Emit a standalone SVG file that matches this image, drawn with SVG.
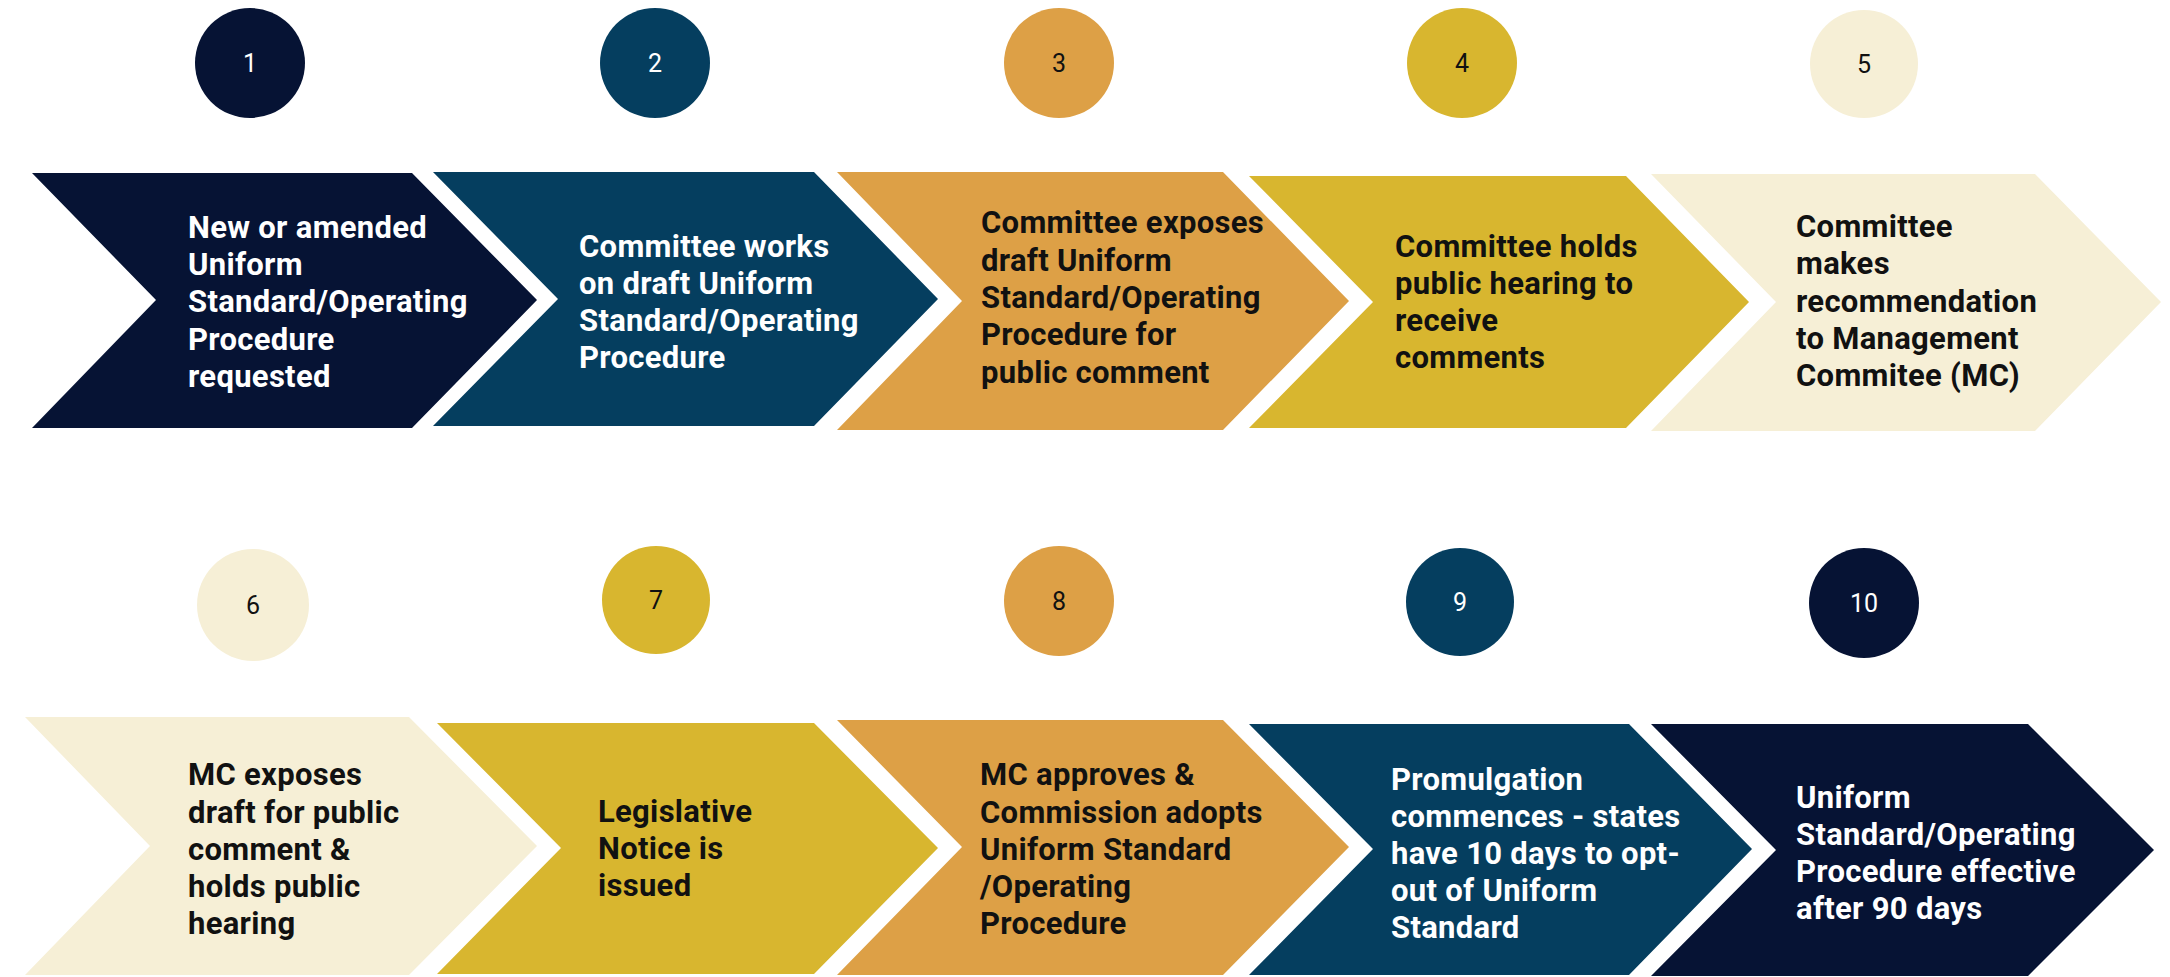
<svg xmlns="http://www.w3.org/2000/svg" width="2170" height="977" viewBox="0 0 2170 977">
<style>
.navy{fill:#061334}
.blue{fill:#053E5F}
.orange{fill:#DDA046}
.gold{fill:#D8B62F}
.cream{fill:#F6EFD6}
.num{font-family:Roboto,"Liberation Sans",sans-serif;font-size:25px;text-anchor:middle}
.lbl{font-family:Roboto,"Liberation Sans",sans-serif;font-size:31px;font-weight:bold;letter-spacing:0.3px}
.w{fill:#FFFFFF}
.d{fill:#111111}
</style>
<rect width="2170" height="977" fill="#FFFFFF"/>
<g id="step1">
<circle class="navy" cx="250" cy="63" r="55"/>
<text class="num w" x="250" y="72">1</text>
<polygon class="navy" points="32,173 412,173 537,300 412,428 32,428 156,300"/>
<text class="lbl w"><tspan x="188" y="238">New or amended</tspan><tspan x="188" y="275">Uniform</tspan><tspan x="188" y="312">Standard/Operating</tspan><tspan x="188" y="350">Procedure</tspan><tspan x="188" y="387">requested</tspan></text>
</g>
<g id="step2">
<circle class="blue" cx="655" cy="63" r="55"/>
<text class="num w" x="655" y="72">2</text>
<polygon class="blue" points="433,172 814,172 938,299 814,426 433,426 558,299"/>
<text class="lbl w"><tspan x="579" y="257">Committee works</tspan><tspan x="579" y="294">on draft Uniform</tspan><tspan x="579" y="331">Standard/Operating</tspan><tspan x="579" y="368">Procedure</tspan></text>
</g>
<g id="step3">
<circle class="orange" cx="1059" cy="63" r="55"/>
<text class="num d" x="1059" y="72">3</text>
<polygon class="orange" points="837,172 1223,172 1349,301 1223,430 837,430 962,301"/>
<text class="lbl d"><tspan x="981" y="233">Committee exposes</tspan><tspan x="981" y="271">draft Uniform</tspan><tspan x="981" y="308">Standard/Operating</tspan><tspan x="981" y="345">Procedure for</tspan><tspan x="981" y="383">public comment</tspan></text>
</g>
<g id="step4">
<circle class="gold" cx="1462" cy="63" r="55"/>
<text class="num d" x="1462" y="72">4</text>
<polygon class="gold" points="1249,176 1626,176 1749,302 1626,428 1249,428 1373,302"/>
<text class="lbl d"><tspan x="1395" y="257">Committee holds</tspan><tspan x="1395" y="294">public hearing to</tspan><tspan x="1395" y="331">receive</tspan><tspan x="1395" y="368">comments</tspan></text>
</g>
<g id="step5">
<circle class="cream" cx="1864" cy="64" r="54"/>
<text class="num d" x="1864" y="73">5</text>
<polygon class="cream" points="1651,174 2035,174 2161,302 2035,431 1651,431 1776,302"/>
<text class="lbl d"><tspan x="1796" y="237">Committee</tspan><tspan x="1796" y="274">makes</tspan><tspan x="1796" y="312">recommendation</tspan><tspan x="1796" y="349">to Management</tspan><tspan x="1796" y="386">Commitee (MC)</tspan></text>
</g>
<g id="step6">
<circle class="cream" cx="253" cy="605" r="56"/>
<text class="num d" x="253" y="614">6</text>
<polygon class="cream" points="25,717 409,717 537,846 409,975 25,975 150,846"/>
<text class="lbl d"><tspan x="188" y="785">MC exposes</tspan><tspan x="188" y="823">draft for public</tspan><tspan x="188" y="860">comment &amp;</tspan><tspan x="188" y="897">holds public</tspan><tspan x="188" y="934">hearing</tspan></text>
</g>
<g id="step7">
<circle class="gold" cx="656" cy="600" r="54"/>
<text class="num d" x="656" y="609">7</text>
<polygon class="gold" points="437,723 814,723 938,848 814,974 437,974 561,848"/>
<text class="lbl d"><tspan x="598" y="822">Legislative</tspan><tspan x="598" y="859">Notice is</tspan><tspan x="598" y="896">issued</tspan></text>
</g>
<g id="step8">
<circle class="orange" cx="1059" cy="601" r="55"/>
<text class="num d" x="1059" y="610">8</text>
<polygon class="orange" points="837,720 1223,720 1349,847 1223,975 837,975 962,847"/>
<text class="lbl d"><tspan x="980" y="785">MC approves &amp;</tspan><tspan x="980" y="823">Commission adopts</tspan><tspan x="980" y="860">Uniform Standard</tspan><tspan x="980" y="897">/Operating</tspan><tspan x="980" y="934">Procedure</tspan></text>
</g>
<g id="step9">
<circle class="blue" cx="1460" cy="602" r="54"/>
<text class="num w" x="1460" y="611">9</text>
<polygon class="blue" points="1249,724 1629,724 1752,849 1629,975 1249,975 1373,849"/>
<text class="lbl w"><tspan x="1391" y="790">Promulgation</tspan><tspan x="1391" y="827">commences - states</tspan><tspan x="1391" y="864">have 10 days to opt-</tspan><tspan x="1391" y="901">out of Uniform</tspan><tspan x="1391" y="938">Standard</tspan></text>
</g>
<g id="step10">
<circle class="navy" cx="1864" cy="603" r="55"/>
<text class="num w" x="1864" y="612">10</text>
<polygon class="navy" points="1651,724 2028,724 2154,850 2028,976 1651,976 1776,850"/>
<text class="lbl w"><tspan x="1796" y="808">Uniform</tspan><tspan x="1796" y="845">Standard/Operating</tspan><tspan x="1796" y="882">Procedure effective</tspan><tspan x="1796" y="919">after 90 days</tspan></text>
</g>
<g id="connectors"></g>
</svg>
